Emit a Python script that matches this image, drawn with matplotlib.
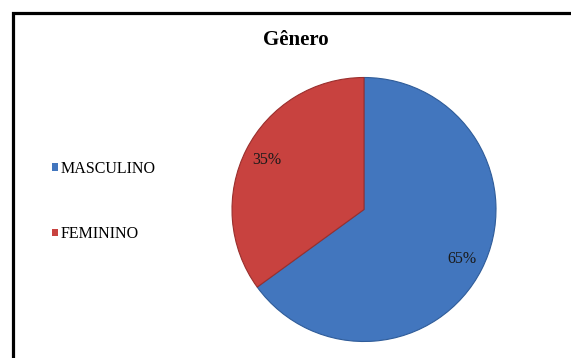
import matplotlib
matplotlib.use("Agg")
import matplotlib.pyplot as plt
from matplotlib.patches import Rectangle

# ----- data -----
categories = ["MASCULINO", "FEMININO"]
shares = [65, 35]
colors = ["#4276be", "#c8423f"]
edge_colors = ["#2f5c99", "#9a2f2d"]
title = "Gênero"

plt.rcParams["font.family"] = ["Liberation Serif", "DejaVu Serif"]

W, H = 571, 358
fig = plt.figure(figsize=(W / 100, H / 100), dpi=100)
fig.patch.set_facecolor("white")

# black frame, only top and left edges fall inside the picture
fig.add_artist(Rectangle((12.5 / W, -0.2), 1.5, 1.2 - 12.5 / H,
                         transform=fig.transFigure, fill=False,
                         edgecolor="black", linewidth=2.3))

# pie axes: centre (364, 209.5) px, radius ~132 px
cx, cy, r, pad = 364, 209.5, 132, 145
ax = fig.add_axes([(cx - pad) / W, (H - cy - pad) / H, 2 * pad / W, 2 * pad / H])
wedges, _, autotexts = ax.pie(
    shares, colors=colors, startangle=90, counterclock=False,
    autopct="%1.0f%%", pctdistance=0.83, radius=1.0,
    wedgeprops=dict(linewidth=0.8, edgecolor="white"),
    textprops=dict(fontsize=11.5, color="#1a1a1a"),
)
for w, ec in zip(wedges, edge_colors):
    w.set_edgecolor(ec)
ax.set_xlim(-pad / r, pad / r)
ax.set_ylim(-pad / r, pad / r)
ax.set_aspect("equal")
ax.axis("off")

fig.text(296 / W, 1 - 40 / H, title, ha="center", va="center",
         fontsize=15, fontweight="bold")

leg = fig.legend(wedges, categories, loc="center left",
                 bbox_to_anchor=(52 / W, 1 - 201.5 / H),
                 frameon=False, fontsize=11.5, handlelength=0.38,
                 handleheight=0.38, handletextpad=0.15, labelspacing=3.1,
                 borderpad=0, borderaxespad=0)
for h in leg.legend_handles:
    h.set_edgecolor("none")

fig.savefig("out.png", dpi=100, facecolor="white")
